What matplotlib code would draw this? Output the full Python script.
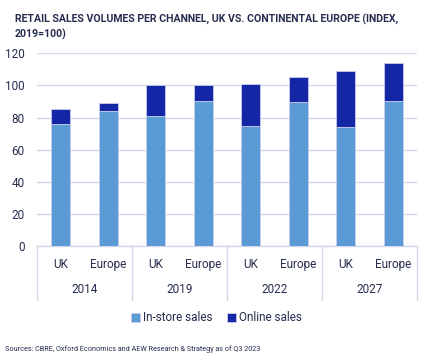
import numpy as np
import matplotlib
matplotlib.use("Agg")
import matplotlib.pyplot as plt
from matplotlib.transforms import blended_transform_factory

# data
years = ["2014", "2019", "2022", "2027"]
regions = ["UK", "Europe"]
instore = [76, 84, 81, 90.5, 74.5, 90, 74, 90.5]
online = [9.5, 5, 19, 9.5, 26.5, 15, 35, 23.5]

plt.rcParams['font.family'] = ['Roboto', 'DejaVu Sans']
navy = '#262d4f'
c_in = '#5b9bd5'
c_on = '#1226a6'
grid = '#d3d7ea'

fig = plt.figure(figsize=(4.27, 3.58), dpi=100)
ax = fig.add_axes([0.0867, 0.3128, 0.8893, 0.5382])

x = np.arange(len(instore))
ax.bar(x, instore, width=0.4, color=c_in, edgecolor='#c9cdeb', linewidth=0.6, zorder=3,
       label='In-store sales')
ax.bar(x, online, width=0.4, bottom=instore, color=c_on, edgecolor='#c9cdeb', linewidth=0.6,
       zorder=3, label='Online sales')

ax.set_xlim(-0.5, len(x) - 0.5)
ax.set_ylim(0, 120)
ax.set_yticks(range(0, 121, 20))
ax.yaxis.grid(True, color=grid, linewidth=1)
ax.set_axisbelow(True)
for s in ['top', 'right', 'left']:
    ax.spines[s].set_visible(False)
ax.spines['bottom'].set_color(grid)
ax.spines['bottom'].set_linewidth(1)
ax.tick_params(axis='y', length=0, pad=9, labelsize=8.5, labelcolor=navy)
ax.set_xticks([])

tr = blended_transform_factory(ax.transData, ax.transAxes)
for i in x:
    ax.text(i, -0.098, regions[i % 2], transform=tr, ha='center', va='center',
            fontsize=8.5, color=navy)
for j, yr in enumerate(years):
    ax.text(2 * j + 0.5, -0.228, yr, transform=tr, ha='center', va='center',
            fontsize=8.5, color=navy)
for b in np.arange(-0.5, len(x), 2):
    ax.plot([b, b], [0, -0.28], transform=tr, color=grid, linewidth=1, clip_on=False)

fig.legend(loc='center', bbox_to_anchor=(0.507, 0.112), ncol=2, frameon=False,
           fontsize=8.5, handlelength=0.75, handleheight=0.75, handletextpad=0.25,
           columnspacing=1.2, labelcolor=navy)

fig.text(0.035, 0.963, "RETAIL SALES VOLUMES PER CHANNEL, UK VS. CONTINENTAL EUROPE (INDEX,\n2019=100)",
         ha='left', va='top', fontsize=7.6, fontweight='bold', color=navy, linespacing=1.45)
fig.text(0.012, 0.025, "Sources: CBRE, Oxford Economics and AEW Research & Strategy as of Q3 2023",
         ha='left', va='center', fontsize=5.2, color=navy)

fig.savefig('out.png', dpi=100)
